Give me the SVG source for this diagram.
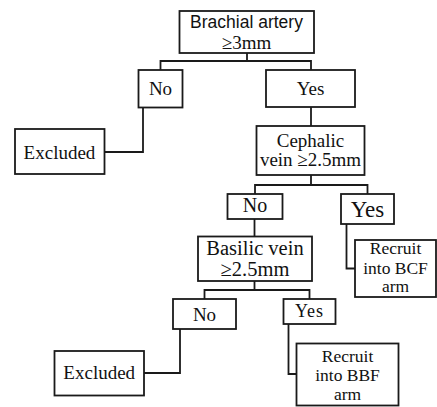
<svg xmlns="http://www.w3.org/2000/svg" width="437" height="407" viewBox="0 0 437 407">
<style>
.box{fill:#fff;stroke:#1a1a1a;stroke-width:1.8}
.ln{fill:none;stroke:#1a1a1a;stroke-width:1.8}
.t{font-family:'Liberation Serif','DejaVu Serif',serif;font-size:19px;fill:#111;text-anchor:middle}
.sans{font-family:'Liberation Sans','DejaVu Sans',sans-serif;font-size:17.5px;fill:#111;text-anchor:middle}
.r{font-size:17.5px}
</style>
<rect width="437" height="407" fill="#fff"/>
<g id="connectors">
<path class="ln" d="M247,53 V61 M160.5,70 V61 H311 V70"/>
<path class="ln" d="M311,107 V126"/>
<path class="ln" d="M143,107.5 V152 H104.5"/>
<path class="ln" d="M311,175 V185 M255,194 V185 H367.5 V194"/>
<path class="ln" d="M254.5,219 V236.5"/>
<path class="ln" d="M346.5,224 V268.5 H355"/>
<path class="ln" d="M254.5,281 V290 M204.5,299 V290 H309.5 V299"/>
<path class="ln" d="M180,329 V373 H144"/>
<path class="ln" d="M288.5,324 V374 H296.5"/>
</g>
<g id="brachial">
<rect class="box" x="179.5" y="11" width="134.5" height="42"/>
<text class="sans" x="246.5" y="28">Brachial artery</text>
<text class="t" x="246.5" y="48.5">≥3mm</text>
</g>
<g id="no1">
<rect class="box" x="138.5" y="70" width="44" height="37.5"/>
<text class="t" x="160.5" y="95">No</text>
</g>
<g id="yes1">
<rect class="box" x="266" y="70" width="89" height="37"/>
<text class="t" x="310.5" y="95">Yes</text>
</g>
<g id="excluded1">
<rect class="box" x="15" y="129" width="89.5" height="45"/>
<text class="t" x="59.5" y="158.5">Excluded</text>
</g>
<g id="cephalic">
<rect class="box" x="256.5" y="126" width="108" height="49"/>
<text class="t" x="310.5" y="146.5">Cephalic</text>
<text class="t" x="310.5" y="166">vein ≥2.5mm</text>
</g>
<g id="no2">
<rect class="box" x="227.5" y="194" width="55" height="25"/>
<text class="t" x="255" y="212" style="font-size:20px">No</text>
</g>
<g id="yes2">
<rect class="box" x="341" y="194" width="53" height="30"/>
<text class="t" x="367.5" y="217" style="font-size:23px">Yes</text>
</g>
<g id="bcf">
<rect class="box" x="355" y="240" width="81" height="57"/>
<text class="t r" x="395.5" y="254">Recruit</text>
<text class="t r" x="395.5" y="273.5">into BCF</text>
<text class="t r" x="395.5" y="292">arm</text>
</g>
<g id="basilic">
<rect class="box" x="198" y="236.5" width="114" height="44.5"/>
<text class="t" x="255" y="254.5" style="font-size:20.5px">Basilic vein</text>
<text class="t" x="255" y="275.5" style="font-size:20.5px">≥2.5mm</text>
</g>
<g id="no3">
<rect class="box" x="173" y="299" width="63" height="30"/>
<text class="t" x="204.5" y="320.5">No</text>
</g>
<g id="yes3">
<rect class="box" x="283.5" y="299" width="52" height="25"/>
<text class="t" x="309.5" y="317" style="font-size:18px;letter-spacing:1px">Yes</text>
</g>
<g id="excluded2">
<rect class="box" x="54.5" y="351" width="89.5" height="44.5"/>
<text class="t" x="99.25" y="378.5">Excluded</text>
</g>
<g id="bbf">
<rect class="box" x="296.5" y="343.5" width="102" height="62"/>
<text class="t r" x="347.5" y="362">Recruit</text>
<text class="t r" x="347.5" y="381">into BBF</text>
<text class="t r" x="347.5" y="400">arm</text>
</g>
</svg>
